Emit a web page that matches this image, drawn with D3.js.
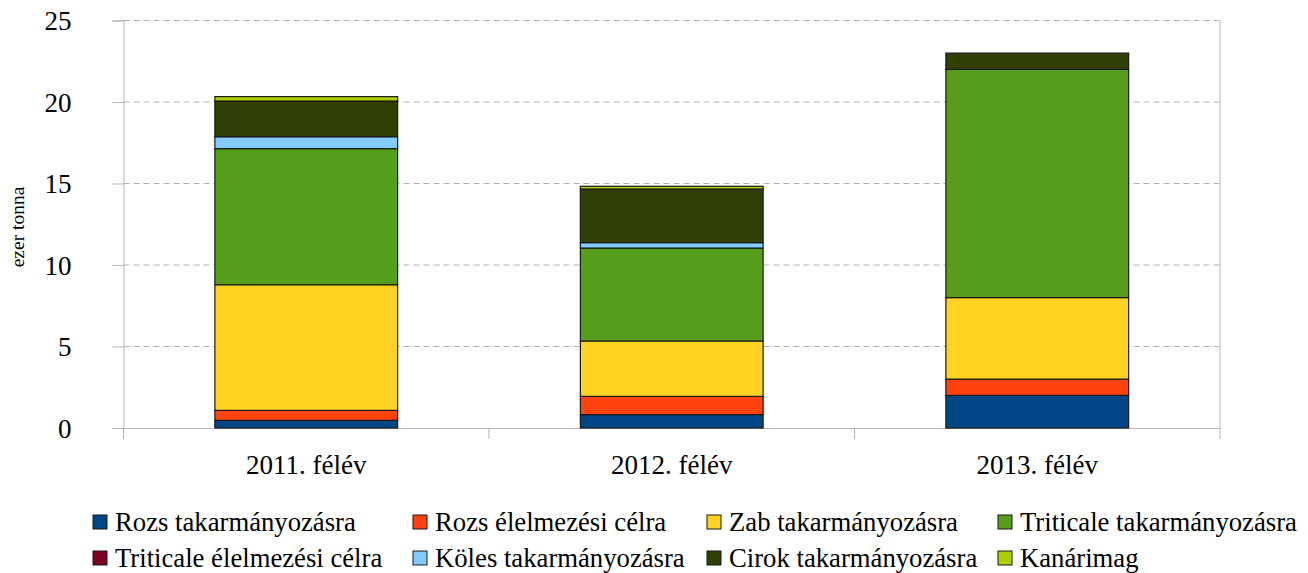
<!DOCTYPE html>
<html>
<head>
<meta charset="utf-8">
<script src="https://cdn.jsdelivr.net/npm/d3@7"></script>
<style>
  body { margin: 0; background: #fff; }
</style>
</head>
<body>
<div id="chart"></div>
<script>
// categories (x axis)
var categories = ["2011. félév", "2012. félév", "2013. félév"];

// series names, in stacking order (bottom to top)
var seriesNames = [
  "Rozs takarmányozásra",
  "Rozs élelmezési célra",
  "Zab takarmányozásra",
  "Triticale takarmányozásra",
  "Triticale élelmezési célra",
  "Köles takarmányozásra",
  "Cirok takarmányozásra",
  "Kanárimag"
];

// values per series, one per category (ezer tonna)
var rozsTak     = [0.47, 0.82, 2.0];
var rozsElel    = [0.61, 1.12, 1.0];
var zabTak      = [7.71, 3.40, 5.0];
var triticTak   = [8.35, 5.70, 14.0];
var triticElel  = [0, 0, 0];
var kolesTak    = [0.73, 0.33, 0];
var cirokTak    = [2.19, 3.29, 1.0];
var kanarimag   = [0.27, 0.17, 0];

var seriesValues = [rozsTak, rozsElel, zabTak, triticTak, triticElel, kolesTak, cirokTak, kanarimag];

var colors = ["#004586", "#ff420e", "#ffd320", "#579d1c", "#7e0021", "#83caff", "#314004", "#aecf00"];

var yTicks = [0, 5, 10, 15, 20, 25];

var FONT = "'Liberation Serif', 'DejaVu Serif', serif";

var width = 1308, height = 573;
var margin = {top: 20.5, right: 88, bottom: 145, left: 123.5};
var innerW = width - margin.left - margin.right,
    innerH = height - margin.top - margin.bottom;

// build table for the stack
var table = categories.map(function(c, i) {
  var row = {cat: c};
  seriesNames.forEach(function(s, j) { row[s] = seriesValues[j][i]; });
  return row;
});

var stack = d3.stack().keys(seriesNames);
var layers = stack(table);

var svg = d3.select("#chart").append("svg")
    .attr("width", width)
    .attr("height", height)
    .style("font-family", FONT);

var g = svg.append("g")
    .attr("transform", "translate(" + margin.left + "," + margin.top + ")");

var x = d3.scaleBand().domain(categories).range([0, innerW]).paddingInner(0.5).paddingOuter(0.25);
var y = d3.scaleLinear().domain([0, 25]).range([innerH, 0]);

// gridlines
g.selectAll("line.grid")
  .data(yTicks.filter(function(t) { return t > 0; }))
  .enter().append("line")
    .attr("class", "grid")
    .attr("x1", 0).attr("x2", innerW)
    .attr("y1", function(d) { return y(d); })
    .attr("y2", function(d) { return y(d); })
    .attr("stroke", "#b3b3b3")
    .attr("stroke-width", 1)
    .attr("stroke-dasharray", "6,4");

// right border of plot area
g.append("line")
  .attr("x1", innerW).attr("x2", innerW)
  .attr("y1", 0).attr("y2", innerH)
  .attr("stroke", "#b3b3b3");

// y axis
var yAxis = g.append("g")
  .call(d3.axisLeft(y).tickValues(yTicks).tickSize(11).tickPadding(41));
yAxis.attr("font-family", null).attr("font-size", null);
yAxis.select(".domain").attr("stroke", "#b3b3b3");
yAxis.selectAll(".tick line").attr("stroke", "#b3b3b3");
yAxis.selectAll(".tick text")
  .style("font-family", FONT)
  .style("font-size", "27px")
  .attr("fill", "#000")
  .attr("dy", "0.34em");

// x axis with ticks between categories
var xAxis = g.append("g")
  .attr("transform", "translate(0," + innerH + ")")
  .call(d3.axisBottom(x).tickSize(0).tickPadding(27));
xAxis.attr("font-family", null).attr("font-size", null);
xAxis.select(".domain").attr("stroke", "#b3b3b3").attr("d", "M0,0.5H" + innerW);
xAxis.selectAll(".tick text")
  .style("font-family", FONT)
  .style("font-size", "27px")
  .attr("fill", "#000");

var step = x.step();
var sepTicks = d3.range(0, categories.length + 1).map(function(i) { return i * step; });
g.selectAll("line.sep")
  .data(sepTicks)
  .enter().append("line")
    .attr("class", "sep")
    .attr("x1", function(d) { return d; })
    .attr("x2", function(d) { return d; })
    .attr("y1", innerH).attr("y2", innerH + 11)
    .attr("stroke", "#b3b3b3");

// bars
var layer = g.selectAll("g.layer")
  .data(layers)
  .enter().append("g")
    .attr("class", "layer")
    .attr("fill", function(d, i) { return colors[i]; });

layer.selectAll("rect")
  .data(function(d) { return d.filter(function(p) { return p[1] - p[0] > 0; }); })
  .enter().append("rect")
    .attr("x", function(d) { return x(d.data.cat); })
    .attr("y", function(d) { return y(d[1]); })
    .attr("width", x.bandwidth())
    .attr("height", function(d) { return y(d[0]) - y(d[1]); })
    .attr("stroke", "#1a1a1a")
    .attr("stroke-width", 1.2);

// y axis title
svg.append("text")
  .attr("transform", "translate(24,227) rotate(-90)")
  .attr("text-anchor", "middle")
  .style("font-family", FONT)
  .style("font-size", "19.5px")
  .text("ezer tonna");

// legend
var legendCols = [93, 413, 707, 998];
var legendRows = [522, 558];
var legend = svg.selectAll("g.legend")
  .data(seriesNames)
  .enter().append("g")
    .attr("class", "legend")
    .attr("transform", function(d, i) {
      return "translate(" + legendCols[i % 4] + "," + legendRows[Math.floor(i / 4)] + ")";
    });

legend.append("rect")
  .attr("x", 0).attr("y", -7)
  .attr("width", 14).attr("height", 14)
  .attr("fill", function(d, i) { return colors[i]; })
  .attr("stroke", "#1a1a1a")
  .attr("stroke-width", 1);

legend.append("text")
  .attr("x", 22)
  .attr("y", 0)
  .attr("dy", "0.35em")
  .style("font-family", FONT)
  .style("font-size", "26.7px")
  .text(function(d) { return d; });
</script>
</body>
</html>
